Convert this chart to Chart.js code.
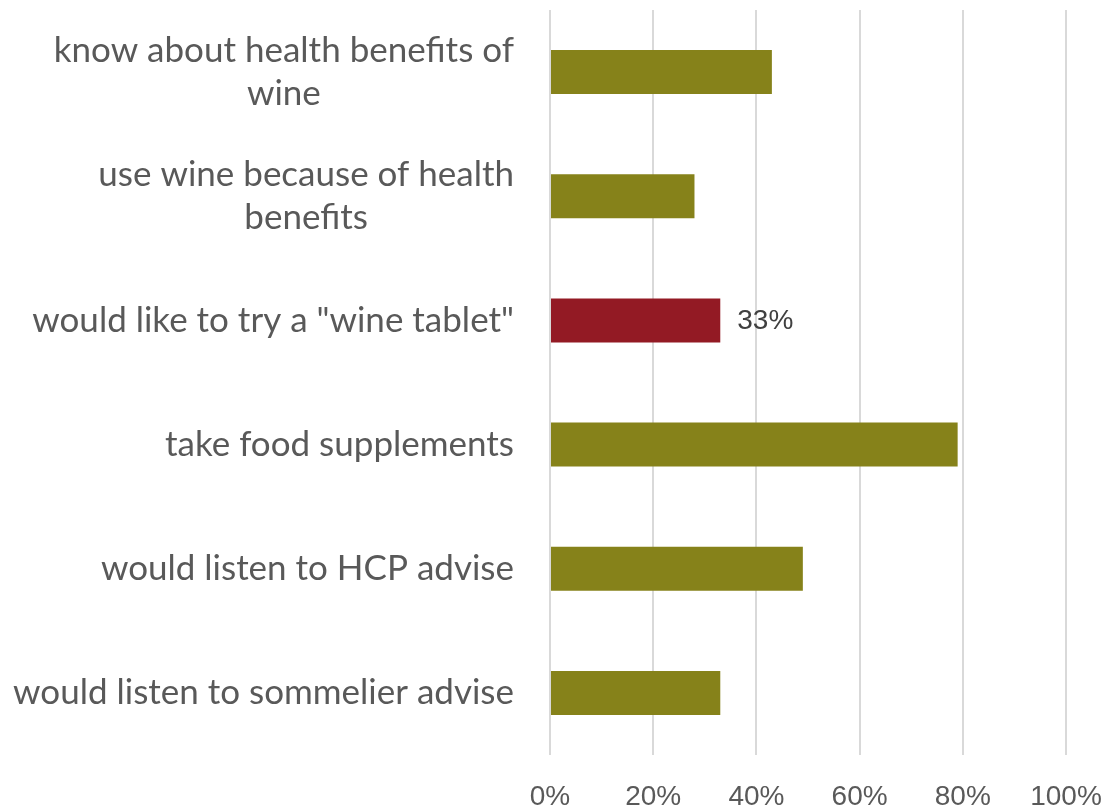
<!DOCTYPE html>
<html lang="en">
<head>
    <meta charset="UTF-8">
    <title>Wine and health survey</title>
    <style>
        body {
            margin: 0;
            background: #ffffff;
            overflow: hidden;
        }
        .chart-canvas {
            width: 1109px;
            height: 809px;
            position: relative;
        }
    </style>
</head>
<body>
    <div class="chart-canvas">
        <canvas id="chart"></canvas>
    </div>

    <script src="https://cdn.jsdelivr.net/npm/chart.js@4.4.0/dist/chart.umd.js"></script>
    <script>
        // Data
        const categories = [
            ['know about health benefits of', 'wine'],
            ['use wine because of health', 'benefits'],
            'would like to try a "wine tablet"',
            'take food supplements',
            'would listen to HCP advise',
            'would listen to sommelier advise'
        ];
        const shares = [43, 28, 33, 79, 49, 33];
        const barColors = ['#86821a', '#86821a', '#931a24', '#86821a', '#86821a', '#86821a'];
        const labelledBars = [2];
        const xTicks = [0, 20, 40, 60, 80, 100];

        const labelFont = '35px Lato, "Open Sans", sans-serif';
        const labelLineHeight = 43;

        // Category labels: block right-aligned, lines centred inside the block
        const categoryLabels = {
            id: 'categoryLabels',
            afterDraw(chart) {
                const ctx = chart.ctx;
                const yScale = chart.scales.y;
                const right = yScale.right - 36;
                ctx.save();
                ctx.font = labelFont;
                ctx.fillStyle = '#595959';
                ctx.textAlign = 'center';
                ctx.textBaseline = 'middle';
                categories.forEach((label, i) => {
                    const lines = Array.isArray(label) ? label : [label];
                    const blockW = Math.max(...lines.map(l => ctx.measureText(l).width));
                    const cx = right - blockW / 2;
                    const y0 = yScale.getPixelForTick(i) - (lines.length - 1) * labelLineHeight / 2;
                    lines.forEach((line, j) => {
                        ctx.fillText(line, cx, y0 + j * labelLineHeight);
                    });
                });
                ctx.restore();
            }
        };

        // Value label next to the highlighted bar
        const valueLabels = {
            id: 'valueLabels',
            afterDatasetsDraw(chart) {
                const ctx = chart.ctx;
                const meta = chart.getDatasetMeta(0);
                ctx.save();
                ctx.font = '28px "Liberation Sans", Arial, sans-serif';
                ctx.fillStyle = '#404040';
                ctx.textAlign = 'left';
                ctx.textBaseline = 'middle';
                labelledBars.forEach(i => {
                    const bar = meta.data[i];
                    ctx.fillText(shares[i] + '%', bar.x + 17, bar.y + 1);
                });
                ctx.restore();
            }
        };

        function createChart() {
            const ctx = document.getElementById('chart').getContext('2d');
            new Chart(ctx, {
                type: 'bar',
                data: {
                    labels: categories,
                    datasets: [{
                        data: shares,
                        backgroundColor: barColors,
                        borderWidth: 0,
                        barPercentage: 0.355,
                        categoryPercentage: 1.0
                    }]
                },
                options: {
                    indexAxis: 'y',
                    responsive: true,
                    maintainAspectRatio: false,
                    animation: false,
                    layout: {
                        padding: { top: 10, right: 43, left: 0, bottom: 0 }
                    },
                    scales: {
                        x: {
                            min: 0,
                            max: 100,
                            afterBuildTicks: axis => {
                                axis.ticks = xTicks.map(v => ({ value: v }));
                            },
                            afterFit: axis => {
                                axis.height = 54;
                                axis.paddingLeft = 0;
                                axis.paddingRight = 0;
                            },
                            grid: {
                                color: '#d9d9d9',
                                lineWidth: 2,
                                drawTicks: false
                            },
                            border: { display: false },
                            ticks: {
                                padding: 25,
                                color: '#595959',
                                maxRotation: 0,
                                font: { family: '"Liberation Sans", Arial, sans-serif', size: 28 },
                                callback: v => v + '%'
                            }
                        },
                        y: {
                            afterFit: axis => {
                                axis.width = 550;
                                axis.paddingTop = 0;
                                axis.paddingBottom = 0;
                            },
                            grid: { display: false, drawTicks: false },
                            border: { display: false },
                            ticks: { display: false }
                        }
                    },
                    plugins: {
                        legend: { display: false },
                        tooltip: { enabled: false }
                    }
                },
                plugins: [valueLabels, categoryLabels]
            });
        }

        document.addEventListener('DOMContentLoaded', createChart);
    </script>
</body>
</html>
